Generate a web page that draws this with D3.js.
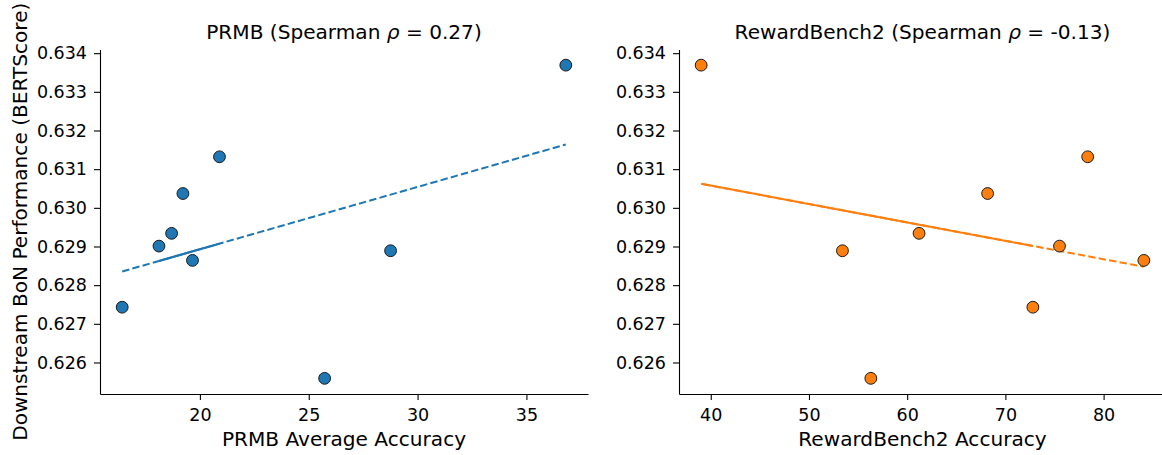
<!DOCTYPE html>
<html>
<head>
<meta charset="utf-8">
<script src="https://cdn.jsdelivr.net/npm/d3@7/dist/d3.min.js"></script>
<style>
  html, body { margin: 0; padding: 0; background: #fff; }
  svg { display: block; font-family: "DejaVu Sans", sans-serif; }
</style>
</head>
<body>
<svg id="chart" width="1162" height="455"></svg>
<script>
// ---- data (one entry per model) ----
const prmbAccuracy = [16.43, 18.70, 20.90, 18.12, 19.66, 19.22, 25.73, 28.76, 36.81];
const rewardBench2Accuracy = [72.80, 61.21, 78.38, 75.51, 84.10, 68.19, 56.30, 53.41, 39.02];
const bertScore = [0.62743, 0.62934, 0.63132, 0.62901, 0.62864, 0.63037, 0.62559, 0.62889, 0.63369];
// order in which the fitted line was traced through the points (unsorted x)
const prmbLineOrder = [0, 1, 2, 3, 4, 5, 6, 7, 8];
const rb2LineOrder = [0, 8, 7, 6, 1, 5, 3, 2, 4];
const yTicks = [0.626, 0.627, 0.628, 0.629, 0.630, 0.631, 0.632, 0.633, 0.634];
const prmbTicks = [20, 25, 30, 35];
const rb2Ticks = [40, 50, 60, 70, 80];
const panels = [
  { title: "PRMB", rho: "0.27", xlabel: "PRMB Average Accuracy", x: prmbAccuracy, ticks: prmbTicks, order: prmbLineOrder, color: "#1f77b4" },
  { title: "RewardBench2", rho: "-0.13", xlabel: "RewardBench2 Accuracy", x: rewardBench2Accuracy, ticks: rb2Ticks, order: rb2LineOrder, color: "#ff7f0e" }
];

const svg = d3.select("#chart");
svg.append("rect").attr("width", 1162).attr("height", 455).attr("fill", "#fff");

const plotTop = 49.5, plotBottom = 394;
const ranges = [[100, 588], [679, 1166]];
const labelSize = 20.1;

function padded(ext) {
  const m = (ext[1] - ext[0]) * 0.05;
  return [ext[0] - m, ext[1] + m];
}

const y = d3.scaleLinear().domain(padded(d3.extent(bertScore))).range([plotBottom, plotTop]);

function fit(xs, ys) {
  const mx = d3.mean(xs), my = d3.mean(ys);
  let sxy = 0, sxx = 0;
  xs.forEach((v, i) => { sxy += (v - mx) * (ys[i] - my); sxx += (v - mx) * (v - mx); });
  const b = sxy / sxx;
  return v => my + b * (v - mx);
}

// stretches of x that the traced line passes over more than once (dashes overlap -> look solid)
function overlapped(xs, order) {
  const sorted = xs.slice().sort((a, b) => a - b);
  const out = [];
  for (let j = 0; j < sorted.length - 1; j++) {
    const a = sorted[j], b = sorted[j + 1];
    let c = 0;
    for (let s = 0; s < order.length - 1; s++) {
      const u = xs[order[s]], v = xs[order[s + 1]];
      if (Math.min(u, v) <= a && Math.max(u, v) >= b) c++;
    }
    if (c >= 2) {
      if (out.length && out[out.length - 1][1] === a) out[out.length - 1][1] = b;
      else out.push([a, b]);
    }
  }
  return out;
}

panels.forEach((p, k) => {
  const x = d3.scaleLinear().domain(padded(d3.extent(p.x))).range(ranges[k]);
  const g = svg.append("g");

  const xa = g.append("g").attr("transform", `translate(0,${plotBottom})`)
    .call(d3.axisBottom(x).tickValues(p.ticks).tickFormat(d3.format("d")).tickSize(6).tickPadding(8.5).tickSizeOuter(0));
  const ya = g.append("g").attr("transform", `translate(${ranges[k][0]},0)`)
    .call(d3.axisLeft(y).tickValues(yTicks).tickFormat(d3.format(".3f")).tickSize(6).tickPadding(7).tickSizeOuter(0));
  [xa, ya].forEach(a => {
    a.selectAll("text").attr("font-size", 17.5).attr("fill", "#000").attr("font-family", "DejaVu Sans");
    a.selectAll("line").attr("stroke", "#000").attr("stroke-width", 1.1);
    a.select(".domain").attr("stroke", "#000").attr("stroke-width", 1.1);
  });

  const f = fit(p.x, bertScore);
  const line = d3.line().x(v => x(v)).y(v => y(f(v)));
  g.append("path").datum(p.order.map(i => p.x[i])).attr("d", line)
    .attr("fill", "none").attr("stroke", p.color).attr("stroke-width", 2)
    .attr("stroke-dasharray", "7.4,3.2");
  overlapped(p.x, p.order).forEach(seg => {
    g.append("path").datum(seg).attr("d", line)
      .attr("fill", "none").attr("stroke", p.color).attr("stroke-width", 2);
  });

  g.selectAll("circle").data(p.x).join("circle")
    .attr("cx", d => x(d)).attr("cy", (d, i) => y(bertScore[i])).attr("r", 5.9)
    .attr("fill", p.color).attr("stroke", "#1a1a1a").attr("stroke-width", 1);

  const cx = (ranges[k][0] + ranges[k][1]) / 2;
  const t = g.append("text").attr("x", cx).attr("y", 39).attr("text-anchor", "middle")
    .attr("font-size", labelSize).attr("fill", "#000");
  t.append("tspan").text(`${p.title} (Spearman `);
  t.append("tspan").attr("font-style", "italic").text("ρ");
  t.append("tspan").text(` = ${p.rho})`);
  g.append("text").attr("x", cx).attr("y", 446).attr("text-anchor", "middle")
    .attr("font-size", labelSize).attr("fill", "#000").text(p.xlabel);
});

svg.append("text").attr("transform", `translate(27,${(plotTop + plotBottom) / 2}) rotate(-90)`)
  .attr("text-anchor", "middle").attr("font-size", labelSize).attr("fill", "#000")
  .text("Downstream BoN Performance (BERTScore)");
</script>
</body>
</html>
